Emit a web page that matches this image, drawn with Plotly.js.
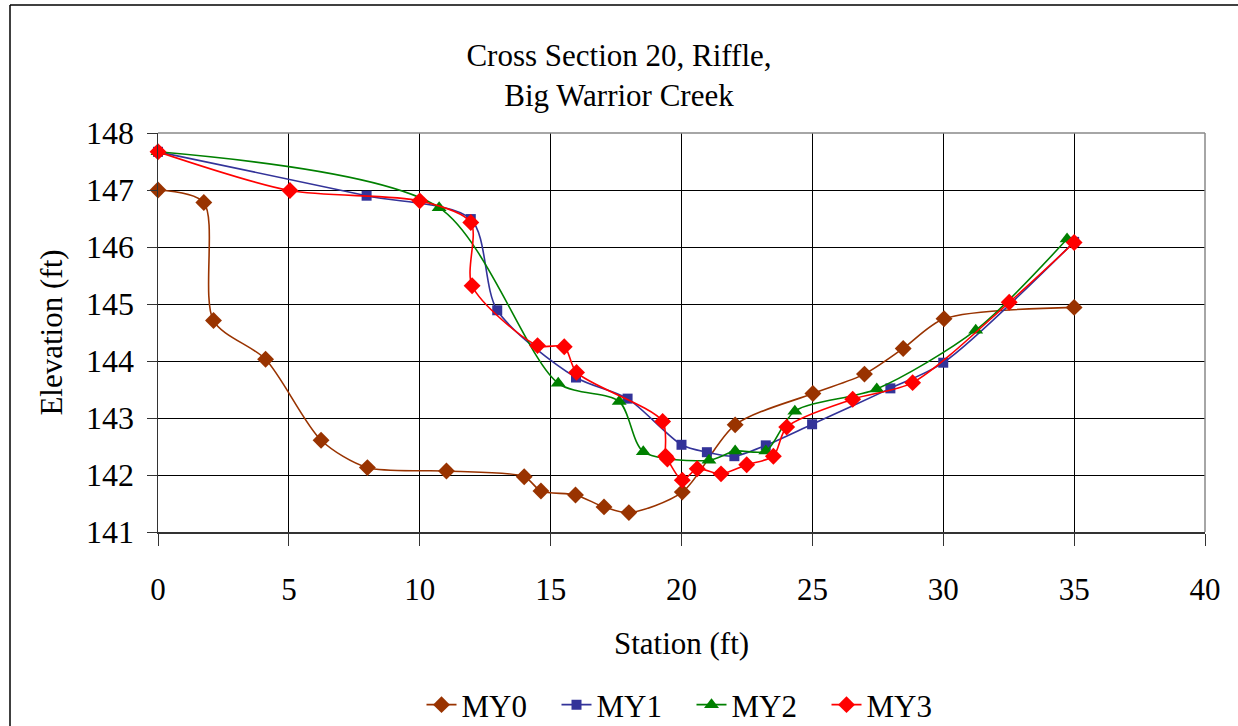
<!DOCTYPE html>
<html>
<head>
<meta charset="utf-8">
<script src="https://cdn.plot.ly/plotly-3.0.1.min.js"></script>
<style>
  html, body { margin: 0; padding: 0; background: #fff; }
  #chart { width: 1238px; height: 726px; }
</style>
</head>
<body>
<div id="chart"></div>
<script>
// Station (ft) and elevation (ft) per survey
const my0Station = [0, 1.75, 2.12, 4.11, 6.23, 8.0, 11.02, 13.99, 14.63, 15.95, 17.04, 17.99, 20.03, 22.05, 25.02, 26.99, 28.47, 30.03, 35.0];
const my0Elev    = [147.0, 146.78, 144.71, 144.03, 142.61, 142.13, 142.07, 141.97, 141.72, 141.65, 141.44, 141.34, 141.70, 142.88, 143.43, 143.77, 144.22, 144.74, 144.94];

const my1Station = [0, 7.97, 11.95, 12.96, 15.97, 17.94, 20.0, 20.97, 22.02, 23.22, 24.99, 27.98, 30.0, 35.0];
const my1Elev    = [147.67, 146.90, 146.49, 144.89, 143.71, 143.34, 142.53, 142.40, 142.33, 142.52, 142.89, 143.52, 143.97, 146.09];

const my2Station = [0, 10.74, 15.29, 17.62, 18.54, 21.05, 22.05, 23.22, 24.33, 27.46, 31.24, 34.73];
const my2Elev    = [147.67, 146.69, 143.61, 143.29, 142.41, 142.26, 142.42, 142.42, 143.12, 143.51, 144.54, 146.14];

const my3Station = [0, 5.04, 10.0, 11.95, 12.0, 14.5, 15.52, 15.99, 19.28, 19.39, 19.46, 20.03, 20.6, 21.51, 22.49, 23.51, 24.02, 26.54, 28.83, 32.52, 35.0];
const my3Elev    = [147.67, 146.99, 146.81, 146.43, 145.32, 144.27, 144.25, 143.80, 142.94, 142.33, 142.28, 141.91, 142.11, 142.02, 142.18, 142.33, 142.84, 143.33, 143.62, 145.03, 146.08];

const seriesNames = ["MY0", "MY1", "MY2", "MY3"];
const xTicks = [0, 5, 10, 15, 20, 25, 30, 35, 40];
const yTicks = [141, 142, 143, 144, 145, 146, 147, 148];

const FONT = "Liberation Serif, DejaVu Serif, Times New Roman, serif";

function mk(name, xs, ys, color, symbol, size) {
  return {
    type: "scatter", mode: "lines+markers", name: name,
    x: xs, y: ys,
    line: { color: color, width: 1.6, shape: "spline", smoothing: 0.8 },
    marker: { color: color, symbol: symbol, size: size, line: { width: 0 } },
    cliponaxis: false
  };
}

const data = [
  mk(seriesNames[0], my0Station, my0Elev, "#993300", "diamond", 13),
  mk(seriesNames[1], my1Station, my1Elev, "#333399", "square", 10),
  mk(seriesNames[2], my2Station, my2Elev, "#008000", "triangle-up", 13),
  mk(seriesNames[3], my3Station, my3Elev, "#FF0000", "diamond", 13)
];

const L = 158, R = 33, T = 133, B = 194;
const PW = 1238 - L - R, PH = 726 - T - B;

const layout = {
  width: 1238, height: 726,
  margin: { l: L, r: R, t: T, b: B, pad: 0, autoexpand: false },
  paper_bgcolor: "#fff", plot_bgcolor: "#fff",
  font: { family: FONT, size: 30, color: "#000" },
  showlegend: true,
  title: {
    text: "Cross Section 20, Riffle,<br>Big Warrior Creek",
    font: { family: FONT, size: 31, color: "#000" },
    x: 0.5, xref: "container", xanchor: "center",
    y: 1 - 66 / 726, yref: "container", yanchor: "middle",
    automargin: false
  },
  xaxis: {
    range: [0, 40], tickvals: xTicks, ticktext: xTicks.map(String),
    automargin: false,
    showgrid: true, gridcolor: "#000", gridwidth: 1,
    zeroline: false,
    showline: true, linecolor: "#333", linewidth: 1.5,
    ticks: "outside", ticklen: 12, tickcolor: "#333", tickwidth: 1,
    ticklabelstandoff: 17,
    tickfont: { family: FONT, size: 31, color: "#000" },
    title: { text: "Station (ft)", font: { family: FONT, size: 31, color: "#000" }, standoff: 26 },
    fixedrange: true
  },
  yaxis: {
    range: [141, 148], tickvals: yTicks, ticktext: yTicks.map(String),
    automargin: false,
    showgrid: true, gridcolor: "#000", gridwidth: 1,
    zeroline: false,
    showline: true, linecolor: "#333", linewidth: 1.5,
    ticks: "outside", ticklen: 10, tickcolor: "#333", tickwidth: 1,
    ticklabelstandoff: 6,
    tickfont: { family: FONT, size: 32, color: "#000" },
    title: { text: "Elevation (ft)", font: { family: FONT, size: 31, color: "#000" }, standoff: 14 },
    fixedrange: true
  },
  legend: {
    orientation: "h",
    x: 0.5 + 10 / PW, xanchor: "center",
    yref: "container",
    y: (726 - 705) / 726, yanchor: "middle",
    font: { family: FONT, size: 31, color: "#000" },
    entrywidth: 90, entrywidthmode: "pixels",
    bgcolor: "rgba(0,0,0,0)"
  },
  shapes: [
    { type: "line", xref: "paper", yref: "paper", x0: 0, x1: 1, y0: 1, y1: 1, line: { color: "#888", width: 1.5 } },
    { type: "line", xref: "paper", yref: "paper", x0: 1, x1: 1, y0: 0, y1: 1, line: { color: "#888", width: 1.5 } },
    { type: "line", xref: "paper", yref: "paper",
      x0: (10 - L) / PW, x1: (10 - L) / PW, y0: -(726 - 532 + 10) / PH, y1: (532 - 5) / PH,
      line: { color: "#000", width: 1.5 } },
    { type: "line", xref: "paper", yref: "paper",
      x0: (10 - L) / PW, x1: (1245 - L) / PW, y0: (532 - 5) / PH, y1: (532 - 5) / PH,
      line: { color: "#000", width: 1.5 } }
  ]
};

Plotly.newPlot("chart", data, layout, { displayModeBar: false, staticPlot: true });
</script>
</body>
</html>
